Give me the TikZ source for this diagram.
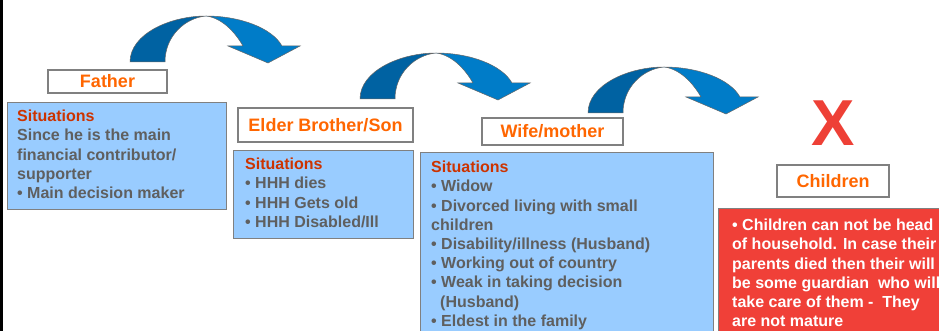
\documentclass[tikz,border=0pt]{standalone}
\usepackage{fontspec}
\setmainfont{Liberation Sans}
\definecolor{lblue}{RGB}{153,204,255}
\definecolor{bordgray}{RGB}{128,128,128}
\definecolor{orng}{RGB}{255,102,0}
\definecolor{sitred}{RGB}{204,51,0}
\definecolor{txtgray}{RGB}{95,95,95}
\definecolor{boxred}{RGB}{240,64,56}
\definecolor{xred}{RGB}{238,64,54}
\definecolor{adark}{RGB}{0,98,162}
\definecolor{alight}{RGB}{0,124,200}
\tikzset{
  sitbox/.style={draw=bordgray, line width=1.3pt, fill=lblue, anchor=north west, inner sep=0pt},
  redbox/.style={draw=bordgray, line width=1.3pt, fill=boxred, anchor=north west, inner sep=0pt},
  lab/.style={draw=bordgray, line width=1.1pt, fill=white, inner sep=0pt, text=orng,
    font=\fontsize{18}{20}\selectfont\bfseries, text height=12.9pt, text depth=0pt},
  txt/.style={anchor=north west, inner sep=0pt, align=left, text=txtgray,
    font=\fontsize{16}{19.2}\selectfont\bfseries},
  curvearrow/.pic={
    \filldraw[fill=adark, draw=gray!80!black, line width=0.5pt]
      (0,0) .. controls (0,-28) and (40,-46) .. (76,-46)
      .. controls (55,-44) and (35,-26) .. (35,0) -- cycle;
    \filldraw[fill=alight, draw=gray!80!black, line width=0.5pt]
      (76,-46) .. controls (110,-46) and (142,-34) .. (152,-16)
      -- (170,-16) -- (138,1) -- (98,-16) -- (113,-16)
      .. controls (105,-30) and (92,-44) .. (76,-46) -- cycle;
  }
}
\begin{document}
\begin{tikzpicture}[x=1pt,y=-1pt]
\useasboundingbox (0,0) rectangle (939,331);
\clip (0,0) rectangle (939,331);
\fill[black] (0,0) rectangle (2.5,331);

% curved arrows
\pic at (130,62) {curvearrow};
\pic at (360,99) {curvearrow};
\pic at (588,113) {curvearrow};

% Father
\node[lab, minimum width=119pt, minimum height=23pt] (fl) at (107.5,81.5) {Father};
\node[sitbox, minimum width=219pt, minimum height=107pt] (fb) at (7,102) {};
\node[txt] (ft) at ([shift={(10,8)}]fb.north west)
  {{\color{sitred}Situations}\\Since he is the main\\financial contributor/\\supporter\\• Main decision maker};

% Elder brother
\node[lab, minimum width=175pt, minimum height=34pt] (el) at (325.5,125) {Elder Brother/Son};
\node[sitbox, minimum width=180pt, minimum height=88pt] (eb) at (233,150) {};
\node[txt] (et) at ([shift={(12,8)}]eb.north west)
  {{\color{sitred}Situations}\\• HHH dies\\• HHH Gets old\\• HHH Disabled/Ill};

% Wife
\node[lab, minimum width=141pt, minimum height=27pt] (wl) at (552.5,131.5) {Wife/mother};
\node[sitbox, minimum width=293pt, minimum height=200pt] (wb) at (420,152) {};
\node[txt] (wt) at ([shift={(11,9)}]wb.north west)
  {{\color{sitred}Situations}\\• Widow\\• Divorced living with small\\children\\• Disability/illness (Husband)\\• Working out of country\\• Weak in taking decision\\\hspace*{9pt}(Husband)\\• Eldest in the family};

% Children
\node[anchor=base, inner sep=0pt, text=xred, font=\fontsize{65}{70}\selectfont\bfseries] (x) at (833,146) {X};
\node[lab, minimum width=112pt, minimum height=32pt] (cl) at (833,181) {Children};
\node[redbox, minimum width=230pt, minimum height=140pt] (cb) at (718,208) {};
\node[txt, text=white] (ct) at ([shift={(14,11)}]cb.north west)
  {• Children can not be head\\of household. In case their\\parents died then their will\\be some guardian\ \ who will\\take care of them -\ \ They\\are not mature};
\end{tikzpicture}
\end{document}
